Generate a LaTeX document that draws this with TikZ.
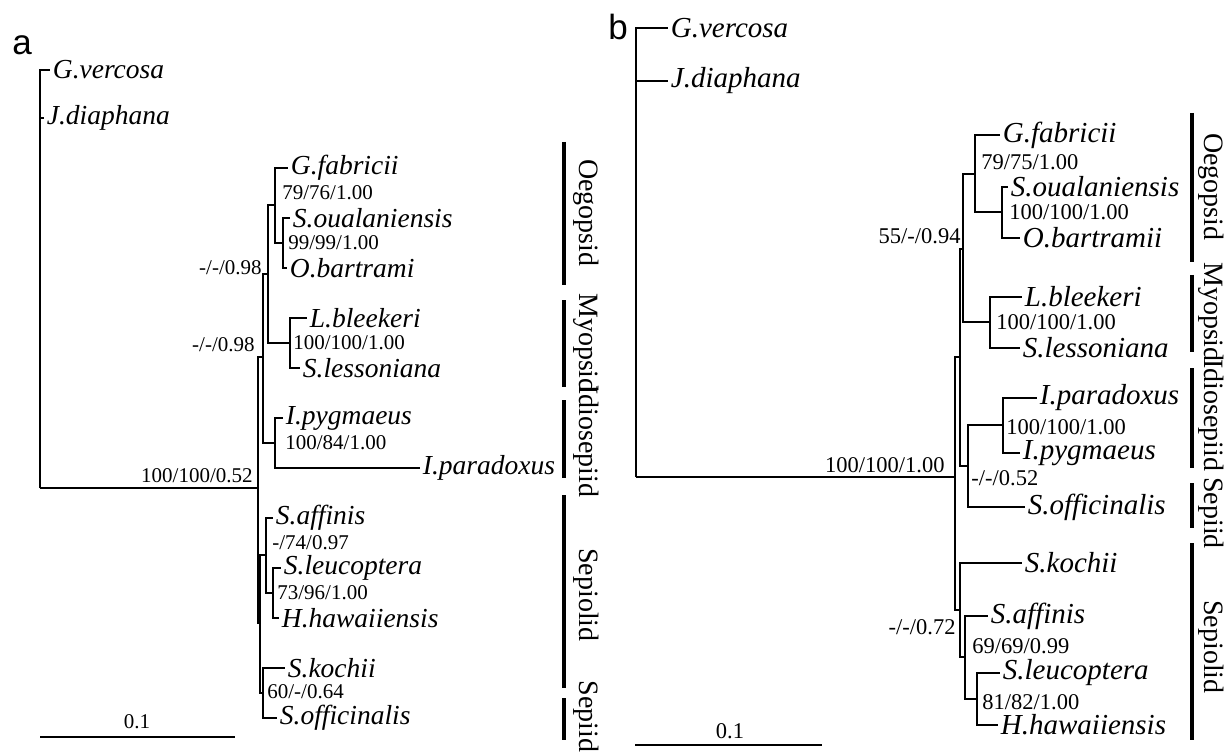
\documentclass[tikz,border=0pt]{standalone}
\usepackage{fontspec}
\setmainfont{Liberation Serif}[ItalicFont={Liberation Serif Italic}]
\newfontfamily\panelfont{Liberation Sans}
\usetikzlibrary{positioning}

\begin{document}
\begin{tikzpicture}[x=1pt, y=-1pt, line width=1.8pt,
  taxon/.style={anchor=west, inner xsep=2pt, inner ysep=0pt, font=\fontsize{27.5}{30}\selectfont\itshape},
  taxonb/.style={anchor=west, inner xsep=2pt, inner ysep=0pt, font=\fontsize{29}{32}\selectfont\itshape},
  supp/.style={inner xsep=0.5pt, inner ysep=0pt, font=\fontsize{21}{24}\selectfont},
  suppb/.style={inner xsep=0.5pt, inner ysep=0pt, font=\fontsize{22.5}{26}\selectfont},
  clade/.style={rotate=-90, inner sep=0pt, font=\fontsize{28}{30}\selectfont},
  cladebar/.style={line width=3.5pt},
  panel/.style={inner sep=0pt, font=\fontsize{35}{38}\selectfont\panelfont}]
  \useasboundingbox (0,0) rectangle (1224,754);
  \clip (0,0) rectangle (1224,754);

  % ---------------- Panel a ----------------
  \node[panel] (pa) at (22,45) {a};
  % Tips
  \node[taxon] (gvera) at (50,70) {G.vercosa};
  \node[taxon] (jdiaa) at (44,118) {J.diaphana};
  \node[taxon] (gfaba) at (288,168) {G.fabricii};
  \node[taxon] (souaa) at (290,218) {S.oualaniensis};
  \node[taxon] (obara) at (287,268) {O.bartrami};
  \node[taxon] (lblea) at (307,318) {L.bleekeri};
  \node[taxon] (slesa) at (300,368) {S.lessoniana};
  \node[taxon] (ipyga) at (283,418) {I.pygmaeus};
  \node[taxon] (ipara) at (420,468) {I.paradoxus};
  \node[taxon] (saffa) at (273,518) {S.affinis};
  \node[taxon] (sleua) at (281,568) {S.leucoptera};
  \node[taxon] (hhawa) at (279,618) {H.hawaiiensis};
  \node[taxon] (skoca) at (285,668) {S.kochii};
  \node[taxon] (soffa) at (277,718) {S.officinalis};
  % Internal nodes
  \coordinate (ra) at (40,488);
  \coordinate (a1) at (258,488);
  \coordinate (aU) at (263,357);
  \coordinate (aOM) at (268,274);
  \coordinate (aOeg) at (275,205);
  \coordinate (aSO) at (283,243);
  \coordinate (aMyo) at (290,343);
  \coordinate (aIdi) at (275,443);
  \coordinate (aL) at (260,623);
  \coordinate (aSep) at (266,555);
  \coordinate (aSH) at (273,593);
  \coordinate (aKO) at (263,693);
  % Branches
  \draw (ra) |- (gvera.west);
  \draw (ra) |- (jdiaa.west);
  \draw (ra) -- (a1);
  \draw (a1) |- (aU);
  \draw (a1) |- (aL);
  \draw (aU) |- (aOM);
  \draw (aU) |- (aIdi);
  \draw (aOM) |- (aOeg);
  \draw (aOM) |- (aMyo);
  \draw (aOeg) |- (gfaba.west);
  \draw (aOeg) |- (aSO);
  \draw (aSO) |- (souaa.west);
  \draw (aSO) |- (obara.west);
  \draw (aMyo) |- (lblea.west);
  \draw (aMyo) |- (slesa.west);
  \draw (aIdi) |- (ipyga.west);
  \draw (aIdi) |- (ipara.west);
  \draw (aL) |- (aSep);
  \draw (aL) |- (aKO);
  \draw (aSep) |- (saffa.west);
  \draw (aSep) |- (aSH);
  \draw (aSH) |- (sleua.west);
  \draw (aSH) |- (hhawa.west);
  \draw (aKO) |- (skoca.west);
  \draw (aKO) |- (soffa.west);
  % Support values
  \node[supp, anchor=east] (sa1) at (254,476) {100/100/0.52};
  \node[supp, anchor=east] (sa2) at (263,268) {-/-/0.98};
  \node[supp, anchor=east] (sa3) at (256,345) {-/-/0.98};
  \node[supp, anchor=west] (sa4) at (281,193) {79/76/1.00};
  \node[supp, anchor=west] (sa5) at (287,243) {99/99/1.00};
  \node[supp, anchor=west] (sa6) at (292,343) {100/100/1.00};
  \node[supp, anchor=west] (sa7) at (284,443) {100/84/1.00};
  \node[supp, anchor=west] (sa8) at (271,543) {-/74/0.97};
  \node[supp, anchor=west] (sa9) at (276,593) {73/96/1.00};
  \node[supp, anchor=west] (sa10) at (266,692) {60/-/0.64};
  % Clades
  \draw[cladebar] (564,142) -- (564,285);
  \node[clade] (oega) at (586,213) {Oegopsid};
  \draw[cladebar] (564,300) -- (564,387);
  \node[clade] (myoa) at (586,343) {Myopsid};
  \draw[cladebar] (564,400) -- (564,478);
  \node[clade] (idia) at (586,441) {Idiosepiid};
  \draw[cladebar] (564,495) -- (564,688);
  \node[clade] (sepla) at (586,595) {Sepiolid};
  \draw[cladebar] (564,698) -- (564,740);
  \node[clade, anchor=west] (sepa) at (586,680) {Sepiid};
  % Scale bar
  \draw (40,737) -- (235,737);
  \node[supp] (scla) at (137,722) {0.1};

  % ---------------- Panel b ----------------
  \node[panel] (pb) at (618,27) {b};
  % Tips
  \node[taxonb] (gverb) at (668,28) {G.vercosa};
  \node[taxonb] (jdiab) at (668,81) {J.diaphana};
  \node[taxonb] (gfabb) at (1000,135) {G.fabricii};
  \node[taxonb] (souab) at (1008,187) {S.oualaniensis};
  \node[taxonb] (obarb) at (1020,238) {O.bartramii};
  \node[taxonb] (lbleb) at (1022,297) {L.bleekeri};
  \node[taxonb] (slesb) at (1020,348) {S.lessoniana};
  \node[taxonb] (iparb) at (1037,398) {I.paradoxus};
  \node[taxonb] (ipygb) at (1020,453) {I.pygmaeus};
  \node[taxonb] (soffb) at (1025,507) {S.officinalis};
  \node[taxonb] (skocb) at (1022,563) {S.kochii};
  \node[taxonb] (saffb) at (988,616) {S.affinis};
  \node[taxonb] (sleub) at (1000,673) {S.leucoptera};
  \node[taxonb] (hhawb) at (998,725) {H.hawaiiensis};
  % Internal nodes
  \coordinate (rb) at (636,477);
  \coordinate (b1) at (955,477);
  \coordinate (bU) at (960,357);
  \coordinate (bOM) at (963,249);
  \coordinate (bOeg) at (975,174);
  \coordinate (bSO) at (1002,212);
  \coordinate (bMyo) at (990,322);
  \coordinate (bIS) at (968,466);
  \coordinate (bIdi) at (1003,425);
  \coordinate (bL) at (960,610);
  \coordinate (bAS) at (965,657);
  \coordinate (bSH) at (977,699);
  % Branches
  \draw (rb) |- (gverb.west);
  \draw (rb) |- (jdiab.west);
  \draw (rb) -- (b1);
  \draw (b1) |- (bU);
  \draw (b1) |- (bL);
  \draw (bU) |- (bOM);
  \draw (bU) |- (bIS);
  \draw (bOM) |- (bOeg);
  \draw (bOM) |- (bMyo);
  \draw (bOeg) |- (gfabb.west);
  \draw (bOeg) |- (bSO);
  \draw (bSO) |- (souab.west);
  \draw (bSO) |- (obarb.west);
  \draw (bMyo) |- (lbleb.west);
  \draw (bMyo) |- (slesb.west);
  \draw (bIS) |- (bIdi);
  \draw (bIS) |- (soffb.west);
  \draw (bIdi) |- (iparb.west);
  \draw (bIdi) |- (ipygb.west);
  \draw (bL) |- (skocb.west);
  \draw (bL) |- (bAS);
  \draw (bAS) |- (saffb.west);
  \draw (bAS) |- (bSH);
  \draw (bSH) |- (sleub.west);
  \draw (bSH) |- (hhawb.west);
  % Support values
  \node[suppb, anchor=east] (sb1) at (946,465) {100/100/1.00};
  \node[suppb, anchor=east] (sb2) at (962,236) {55/-/0.94};
  \node[suppb, anchor=west] (sb3) at (980,162) {79/75/1.00};
  \node[suppb, anchor=west] (sb4) at (1008,212) {100/100/1.00};
  \node[suppb, anchor=west] (sb5) at (995,322) {100/100/1.00};
  \node[suppb, anchor=west] (sb6) at (1005,427) {100/100/1.00};
  \node[suppb, anchor=west] (sb7) at (970,478) {-/-/0.52};
  \node[suppb, anchor=east] (sb8) at (957,627) {-/-/0.72};
  \node[suppb, anchor=west] (sb9) at (971,646) {69/69/0.99};
  \node[suppb, anchor=west] (sb10) at (981,702) {81/82/1.00};
  % Clades
  \draw[cladebar] (1192,113) -- (1192,262);
  \node[clade] (oegb) at (1211,187) {Oegopsid};
  \draw[cladebar] (1192,275) -- (1192,352);
  \node[clade] (myob) at (1211,312) {Myopsid};
  \draw[cladebar] (1192,368) -- (1192,468);
  \node[clade] (idib) at (1211,415) {Idiosepiid};
  \draw[cladebar] (1192,483) -- (1192,528);
  \node[clade] (sepb) at (1211,513) {Sepiid};
  \draw[cladebar] (1192,543) -- (1192,740);
  \node[clade] (seplb) at (1211,647) {Sepiolid};
  % Scale bar
  \draw (635,745) -- (822,745);
  \node[suppb] (sclb) at (730,731) {0.1};
\end{tikzpicture}
\end{document}
